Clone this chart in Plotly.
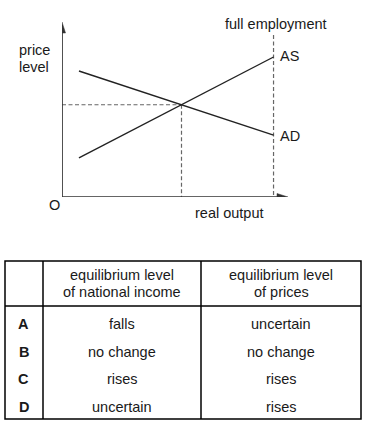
import plotly.graph_objects as go

# ---------------- data ----------------
# AD / AS curves (real output, price level) in diagram units
ad_x = [0.75, 9.36]
ad_y = [7.2, 3.54]
as_x = [0.75, 9.36]
as_y = [2.23, 8.0]
full_employment_x = 9.36
full_employment_top = 9.26

# table
col_headers = [["equilibrium level", "of national income"],
               ["equilibrium level", "of prices"]]
row_labels = ["A", "B", "C", "D"]
national_income = ["falls", "no change", "rises", "uncertain"]
prices = ["uncertain", "no change", "rises", "rises"]

# ---------------- layout helpers ----------------
W, H = 367, 426
FONT = "Liberation Sans, Arial, sans-serif"
FS = 14.5
TXT = "#1a1a1a"

# diagram plot area (pixels)
X0, X1 = 62, 288      # x-axis origin / arrow tip
Y0, Y1 = 197, 22      # y-axis origin / arrow tip
XR, YR = 10.0, 10.0   # axis ranges
kx = (X1 - X0) / XR
ky = (Y0 - Y1) / YR


def px(x):
    return x / W


def py(y):
    return 1 - y / H


# intersection of AD and AS
sa = (ad_y[1] - ad_y[0]) / (ad_x[1] - ad_x[0])
sb = (as_y[1] - as_y[0]) / (as_x[1] - as_x[0])
ix = (as_y[0] - ad_y[0] + sa * ad_x[0] - sb * as_x[0]) / (sa - sb)
iy = ad_y[0] + sa * (ix - ad_x[0])

fig = go.Figure()

dash_style = dict(color="#666666", width=1.2, dash="4px,2.5px")
# dashed guides
fig.add_trace(go.Scatter(x=[0, ix], y=[iy, iy], mode="lines", line=dash_style,
                         hoverinfo="skip", showlegend=False))
fig.add_trace(go.Scatter(x=[ix, ix], y=[iy, 0], mode="lines", line=dash_style,
                         hoverinfo="skip", showlegend=False))
fig.add_trace(go.Scatter(x=[full_employment_x, full_employment_x],
                         y=[full_employment_top, 0], mode="lines", line=dash_style,
                         hoverinfo="skip", showlegend=False))

# curves
fig.add_trace(go.Scatter(x=ad_x, y=ad_y, mode="lines",
                         line=dict(color="#222222", width=1.4),
                         hoverinfo="skip", showlegend=False))
fig.add_trace(go.Scatter(x=as_x, y=as_y, mode="lines",
                         line=dict(color="#222222", width=1.4),
                         hoverinfo="skip", showlegend=False))

# axes
axis_col = "#333333"
fig.add_trace(go.Scatter(x=[0, 0, XR - 9 / kx], y=[YR - 9 / ky, 0, 0], mode="lines",
                         line=dict(color=axis_col, width=1.7),
                         hoverinfo="skip", showlegend=False))
# arrowheads (length 11px, half-width 3.5px)
L, hw = 11, 3.5
fig.add_trace(go.Scatter(x=[0, -hw / kx, hw / kx, 0], y=[YR, YR - L / ky, YR - L / ky, YR],
                         mode="lines", fill="toself", fillcolor=axis_col,
                         line=dict(color=axis_col, width=0.5),
                         hoverinfo="skip", showlegend=False))
fig.add_trace(go.Scatter(x=[XR, XR - L / kx, XR - L / kx, XR], y=[0, hw / ky, -hw / ky, 0],
                         mode="lines", fill="toself", fillcolor=axis_col,
                         line=dict(color=axis_col, width=0.5),
                         hoverinfo="skip", showlegend=False))

ann = []


def text(x, y, s, xanchor="center", bold=False, size=FS):
    ann.append(dict(x=px(x), y=py(y), xref="paper", yref="paper", text=f"<b>{s}</b>" if bold else s,
                    showarrow=False, xanchor=xanchor, yanchor="middle",
                    font=dict(family=FONT, size=size, color=TXT)))


# diagram labels
text(17, 50, "price", xanchor="left")
text(17, 67, "level", xanchor="left")
text(223, 24, "full employment", xanchor="left")
text(278, 56, "AS", xanchor="left")
text(278, 136, "AD", xanchor="left")
text(54, 205, "O")
text(229, 213, "real output")

# table grid
TL, TR, TT, TB = 5, 361, 261, 419
HB = 306
C1, C2 = 43, 201
shapes = [
    dict(type="rect", xref="paper", yref="paper", x0=px(TL), x1=px(TR), y0=py(TT), y1=py(TB),
         line=dict(color="#000000", width=1.5)),
    dict(type="line", xref="paper", yref="paper", x0=px(TL), x1=px(TR), y0=py(HB), y1=py(HB),
         line=dict(color="#000000", width=1.5)),
    dict(type="line", xref="paper", yref="paper", x0=px(C1), x1=px(C1), y0=py(TT), y1=py(TB),
         line=dict(color="#000000", width=1.5)),
    dict(type="line", xref="paper", yref="paper", x0=px(C2), x1=px(C2), y0=py(TT), y1=py(TB),
         line=dict(color="#000000", width=1.5)),
]

col_centers = [(C1 + C2) / 2, (C2 + TR) / 2]
for cx, lines in zip(col_centers, col_headers):
    text(cx, 275, lines[0])
    text(cx, 292, lines[1])

row_y = [324, 352, 379, 407]
for ry, lab, a, b in zip(row_y, row_labels, national_income, prices):
    text(24, ry, lab, bold=True)
    text(col_centers[0], ry, a)
    text(col_centers[1], ry, b)

fig.update_layout(
    width=W, height=H,
    margin=dict(l=0, r=0, t=0, b=0),
    paper_bgcolor="white", plot_bgcolor="white",
    xaxis=dict(domain=[px(X0), px(X1)], range=[0, XR], visible=False, fixedrange=True),
    yaxis=dict(domain=[py(Y0), py(Y1)], range=[0, YR], visible=False, fixedrange=True),
    annotations=ann, shapes=shapes, showlegend=False,
)

fig.write_html(
    "out.html",
    config={"displayModeBar": False},
    post_script="document.body.style.margin='0px';document.body.style.overflow='hidden';",
)
